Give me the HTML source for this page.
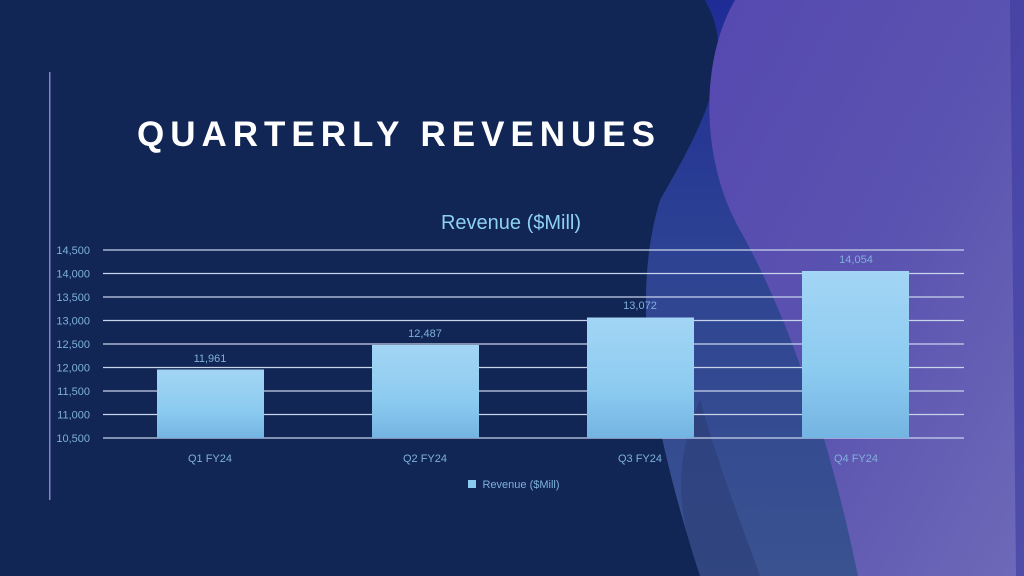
<!DOCTYPE html>
<html><head><meta charset="utf-8"><style>
body{margin:0;width:1024px;height:576px;overflow:hidden;background:#112654;font-family:"Liberation Sans",sans-serif}
svg{position:absolute;left:0;top:0}
</style></head><body>
<svg width="1024" height="576" viewBox="0 0 1024 576">
<defs>
<linearGradient id="bar" x1="0" y1="0" x2="0" y2="1"><stop offset="0" stop-color="#a3d5f5"/><stop offset="0.6" stop-color="#8ccbf0"/><stop offset="1" stop-color="#74b4e2"/></linearGradient>
<linearGradient id="pur" x1="0" y1="0" x2="1" y2="1"><stop offset="0" stop-color="#5648b0"/><stop offset="0.5" stop-color="#5a53b0"/><stop offset="1" stop-color="#6e6ab8"/></linearGradient>
<linearGradient id="blu" x1="0" y1="0" x2="0" y2="1"><stop offset="0" stop-color="#1f2c96"/><stop offset="0.5" stop-color="#2f4592"/><stop offset="1" stop-color="#3a5290"/></linearGradient>
</defs>
<rect width="1024" height="576" fill="#112654"/>
<path d="M705 0 C740 60 700 130 660 200 C630 300 650 420 700 576 L1024 576 L1024 0Z" fill="url(#blu)"/>
<path d="M735 0 C700 60 700 160 740 230 C790 320 830 440 858 576 L1024 576 L1024 0Z" fill="url(#pur)"/>
<path d="M1010 0 L1024 0 L1024 576 L1016 576Z" fill="#3a3aa0" opacity="0.6"/>
<path d="M700 400 C720 470 740 520 760 576 L700 576 C680 520 670 470 700 400Z" fill="#283a70" opacity="0.5"/>
<rect x="49" y="72" width="1.5" height="428" fill="#8a7fd0"/>
<text x="137" y="146" fill="#fff" font-size="35" font-weight="bold" letter-spacing="8" textLength="526" lengthAdjust="spacing">QUARTERLY REVENUES</text>
<text x="511" y="229" fill="#8ed0f4" font-size="20" text-anchor="middle">Revenue ($Mill)</text>
<g stroke="#c8d4ec" stroke-width="1.2">
<line x1="103" x2="964" y1="250" y2="250"/><line x1="103" x2="964" y1="273.5" y2="273.5"/>
<line x1="103" x2="964" y1="297" y2="297"/><line x1="103" x2="964" y1="320.5" y2="320.5"/>
<line x1="103" x2="964" y1="344" y2="344"/><line x1="103" x2="964" y1="367.5" y2="367.5"/>
<line x1="103" x2="964" y1="391" y2="391"/><line x1="103" x2="964" y1="414.5" y2="414.5"/>
<line x1="103" x2="964" y1="438" y2="438"/>
</g>
<g fill="#7fb0dc" font-size="11" text-anchor="end">
<text x="90" y="254">14,500</text><text x="90" y="277.5">14,000</text><text x="90" y="301">13,500</text>
<text x="90" y="324.5">13,000</text><text x="90" y="348">12,500</text><text x="90" y="371.5">12,000</text>
<text x="90" y="395">11,500</text><text x="90" y="418.5">11,000</text><text x="90" y="442">10,500</text>
</g>
<rect x="157" y="369.5" width="107" height="68.5" fill="url(#bar)"/>
<rect x="372" y="345" width="107" height="93" fill="url(#bar)"/>
<rect x="587" y="317.5" width="107" height="120.5" fill="url(#bar)"/>
<rect x="802" y="271" width="107" height="167" fill="url(#bar)"/>
<g fill="#7fb0dc" font-size="11" text-anchor="middle">
<text x="210" y="362">11,961</text><text x="425" y="337">12,487</text>
<text x="640" y="309">13,072</text><text x="856" y="263">14,054</text>
<text x="210" y="462">Q1 FY24</text><text x="425" y="462">Q2 FY24</text>
<text x="640" y="462">Q3 FY24</text><text x="856" y="462">Q4 FY24</text>
<text x="521" y="488">Revenue ($Mill)</text>
</g>
<rect x="468" y="480" width="8" height="8" fill="#8ccbf0"/>
</svg>
</body></html>
